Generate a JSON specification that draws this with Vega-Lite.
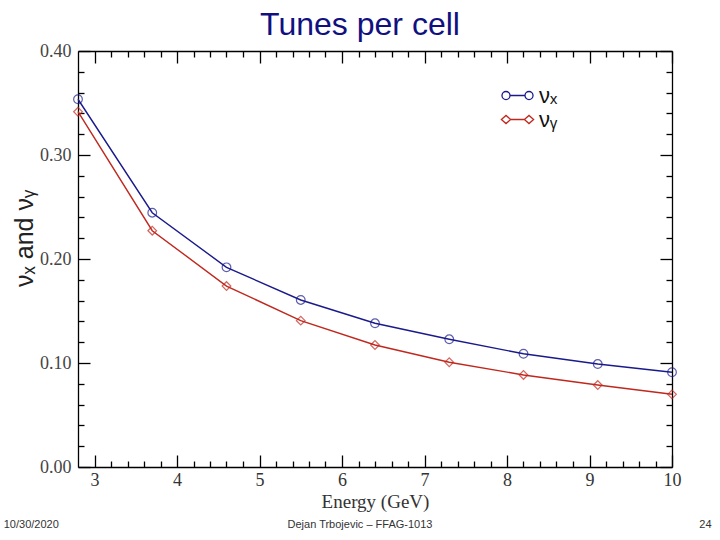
{
  "$schema": "https://vega.github.io/schema/vega-lite/v6.json",
  "autosize": {"type": "none"},
  "padding": {"left": 78, "top": 51, "right": 48, "bottom": 73},
  "width": 594,
  "height": 416,
  "background": "white",
  "title": {
    "text": "Tunes per cell",
    "font": "Liberation Sans",
    "fontSize": 32,
    "fontWeight": "normal",
    "color": "#10107f",
    "anchor": "middle",
    "dx": -15,
    "offset": 0
  },
  "config": {
    "view": {"stroke": null},
    "axis": {"grid": false, "domainColor": "black", "tickColor": "black", "domainWidth": 1.3, "tickWidth": 1.3, "labelFlush": false}
  },
  "data": {
    "values": [
      {"energy": 2.8, "tune": 0.3536, "series": "vx"},
      {"energy": 3.7, "tune": 0.2445, "series": "vx"},
      {"energy": 4.6, "tune": 0.1920, "series": "vx"},
      {"energy": 5.5, "tune": 0.1606, "series": "vx"},
      {"energy": 6.4, "tune": 0.1382, "series": "vx"},
      {"energy": 7.3, "tune": 0.1228, "series": "vx"},
      {"energy": 8.2, "tune": 0.1089, "series": "vx"},
      {"energy": 9.1, "tune": 0.0990, "series": "vx"},
      {"energy": 10.0, "tune": 0.0911, "series": "vx"},
      {"energy": 2.8, "tune": 0.3416, "series": "vy"},
      {"energy": 3.7, "tune": 0.2272, "series": "vy"},
      {"energy": 4.6, "tune": 0.1740, "series": "vy"},
      {"energy": 5.5, "tune": 0.1407, "series": "vy"},
      {"energy": 6.4, "tune": 0.1173, "series": "vy"},
      {"energy": 7.3, "tune": 0.1007, "series": "vy"},
      {"energy": 8.2, "tune": 0.0885, "series": "vy"},
      {"energy": 9.1, "tune": 0.0788, "series": "vy"},
      {"energy": 10.0, "tune": 0.0699, "series": "vy"}
    ]
  },
  "resolve": {"axis": {"x": "independent", "y": "independent"}},
  "layer": [
    {
      "mark": {"type": "line", "strokeWidth": 1.4},
      "encoding": {
        "x": {
          "field": "energy", "type": "quantitative",
          "scale": {"domain": [2.8, 10], "nice": false, "zero": false},
          "axis": {
            "orient": "bottom",
            "values": [3,3.2,3.4,3.6,3.8,4,4.2,4.4,4.6,4.8,5,5.2,5.4,5.6,5.8,6,6.2,6.4,6.6,6.8,7,7.2,7.4,7.6,7.8,8,8.2,8.4,8.6,8.8,9,9.2,9.4,9.6,9.8,10],
            "tickSize": {"condition": {"test": "abs(datum.value - round(datum.value)) < 0.01", "value": -12}, "value": -6},
            "labelExpr": "abs(datum.value - round(datum.value)) < 0.01 ? format(datum.value, 'd') : ''",
            "labelFont": "Liberation Serif", "labelFontSize": 18, "labelColor": "#333", "labelPadding": 16,
            "title": "Energy (GeV)", "titleFont": "Liberation Serif", "titleFontSize": 19, "titleFontWeight": "normal", "titleColor": "#333", "titlePadding": 3
          }
        },
        "y": {
          "field": "tune", "type": "quantitative",
          "scale": {"domain": [0, 0.4], "nice": false, "zero": false},
          "axis": {
            "orient": "left",
            "values": [0,0.02,0.04,0.06,0.08,0.1,0.12,0.14,0.16,0.18,0.2,0.22,0.24,0.26,0.28,0.3,0.32,0.34,0.36,0.38,0.4],
            "tickSize": {"condition": {"test": "abs(datum.value*10 - round(datum.value*10)) < 0.001", "value": -12}, "value": -6},
            "labelExpr": "abs(datum.value*10 - round(datum.value*10)) < 0.001 ? format(datum.value, '.2f') : ''",
            "labelFont": "Liberation Serif", "labelFontSize": 18, "labelColor": "#444", "labelPadding": 19,
            "title": "νₓ and νᵧ", "titleFont": "Liberation Sans", "titleFontSize": 25, "titleFontWeight": "normal", "titleColor": "#222", "titlePadding": 2, "titleY": 187
          }
        },
        "color": {
          "field": "series", "type": "nominal",
          "scale": {"domain": ["vx", "vy"], "range": ["#1a1a8c", "#c0281e"]},
          "legend": {
            "orient": "none", "legendX": 427, "legendY": 32, "title": null,
            "symbolSize": 529, "symbolStrokeWidth": 1.3, "rowPadding": 0,
            "labelFont": "Liberation Sans", "labelFontSize": 22, "labelColor": "#111", "labelOffset": 9,
            "labelExpr": "datum.value == 'vx' ? 'νₓ' : 'νᵧ'",
            "encode": {
              "symbols": {
                "update": {
                  "shape": {"signal": "datum.value == 'vx' ? 'M-0.65,0L0.65,0M-0.65,0A0.35,0.35,0,1,1,-1.35,0A0.35,0.35,0,1,1,-0.65,0M1.35,0A0.35,0.35,0,1,1,0.65,0A0.35,0.35,0,1,1,1.35,0' : 'M-0.6,0L0.6,0M-1.4,0L-1,-0.35L-0.6,0L-1,0.35Z M0.6,0L1,-0.35L1.4,0L1,0.35Z'"},
                  "fill": {"value": "transparent"}
                }
              }
            }
          }
        }
      }
    },
    {
      "transform": [{"filter": "datum.series == 'vx'"}],
      "mark": {"type": "point", "shape": "circle", "filled": false, "size": 75, "strokeWidth": 1.2, "color": "#1a1a8c"},
      "encoding": {
        "x": {
          "field": "energy", "type": "quantitative",
          "axis": {
            "orient": "top", "labels": false, "title": null,
            "values": [3,3.2,3.4,3.6,3.8,4,4.2,4.4,4.6,4.8,5,5.2,5.4,5.6,5.8,6,6.2,6.4,6.6,6.8,7,7.2,7.4,7.6,7.8,8,8.2,8.4,8.6,8.8,9,9.2,9.4,9.6,9.8,10],
            "tickSize": {"condition": {"test": "abs(datum.value - round(datum.value)) < 0.01", "value": -12}, "value": -6}
          }
        },
        "y": {
          "field": "tune", "type": "quantitative",
          "axis": {
            "orient": "right", "labels": false, "title": null,
            "values": [0,0.02,0.04,0.06,0.08,0.1,0.12,0.14,0.16,0.18,0.2,0.22,0.24,0.26,0.28,0.3,0.32,0.34,0.36,0.38,0.4],
            "tickSize": {"condition": {"test": "abs(datum.value*10 - round(datum.value*10)) < 0.001", "value": -12}, "value": -6}
          }
        }
      }
    },
    {
      "transform": [{"filter": "datum.series == 'vy'"}],
      "mark": {"type": "point", "shape": "diamond", "filled": false, "size": 75, "strokeWidth": 1.2, "color": "#c0281e"},
      "encoding": {
        "x": {"field": "energy", "type": "quantitative", "axis": null},
        "y": {"field": "tune", "type": "quantitative", "axis": null}
      }
    },
    {
      "data": {"values": [{"label": "10/30/2020"}]},
      "mark": {"type": "text", "align": "left", "baseline": "middle", "font": "Liberation Sans", "fontSize": 11, "color": "#333"},
      "encoding": {
        "x": {"datum": 1.9, "type": "quantitative", "axis": null},
        "y": {"datum": -0.0558, "type": "quantitative", "axis": null},
        "text": {"field": "label"}
      }
    },
    {
      "data": {"values": [{"label": "Dejan Trbojevic – FFAG-1013"}]},
      "mark": {"type": "text", "align": "center", "baseline": "middle", "font": "Liberation Sans", "fontSize": 11, "color": "#333"},
      "encoding": {
        "x": {"datum": 6.218, "type": "quantitative", "axis": null},
        "y": {"datum": -0.0558, "type": "quantitative", "axis": null},
        "text": {"field": "label"}
      }
    },
    {
      "data": {"values": [{"label": "24"}]},
      "mark": {"type": "text", "align": "right", "baseline": "middle", "font": "Liberation Sans", "fontSize": 11, "color": "#333"},
      "encoding": {
        "x": {"datum": 10.48, "type": "quantitative", "axis": null},
        "y": {"datum": -0.0558, "type": "quantitative", "axis": null},
        "text": {"field": "label"}
      }
    }
  ]
}
